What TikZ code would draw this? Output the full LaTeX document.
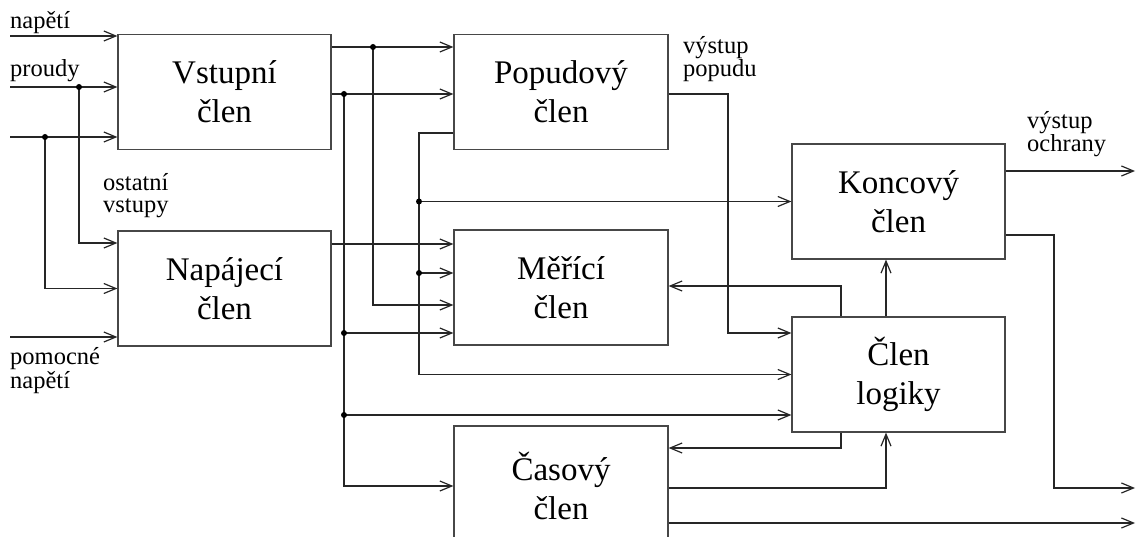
\documentclass[tikz,border=0pt]{standalone}
\usepackage{fontspec}
\setmainfont{Liberation Serif}
\usetikzlibrary{arrows.meta,calc}
\begin{document}
\begin{tikzpicture}[x=1pt,y=-1pt,
  box/.style={draw=black!72, line width=1.2pt, fill=white, minimum width=213pt, minimum height=115pt,
    inner sep=0pt, align=center, font=\fontsize{33}{39}\selectfont},
  wire/.style={draw=black!85, line width=1.2pt},
  arr/.style={wire, -{Straight Barb[length=12pt,width=10pt]}},
  lbl/.style={font=\fontsize{24.5}{22}\selectfont, inner sep=0pt, align=left, anchor=base west},
  dot/.style={circle, fill=black, inner sep=0pt, minimum size=6pt}]
\useasboundingbox (0,0) rectangle (1137,537);
\clip (0,0) rectangle (1137,537);

% blocks
\node[box] (V) at (224.5,92) {Vstupní\\člen};
\node[box] (N) at (224.5,288.5) {Napájecí\\člen};
\node[box, minimum width=214pt] (P) at (561,92) {Popudový\\člen};
\node[box, minimum width=214pt] (M) at (561,287.5) {Měřící\\člen};
\node[box, minimum width=214pt, minimum height=120pt] (C) at (561,486) {Časový\\člen};
\node[box] (K) at (898.5,201.5) {Koncový\\člen};
\node[box] (L) at (898.5,374.5) {Člen\\logiky};

% left inputs
\coordinate (iU) at (10,36);
\coordinate (iI) at (10,87);
\coordinate (iO) at (10,137);
\coordinate (iP) at (10,337);
\coordinate (dI) at (79,87);
\coordinate (dO) at (45,137);
\draw[arr] (iU) -- (iU -| V.west);
\draw[arr] (iI) -- (iI -| V.west);
\draw[arr] (iO) -- (iO -| V.west);
\draw[arr] (dI) |- ([yshift=45.5pt]N.west);
\draw[arr] (dO) |- (N.west);
\draw[arr] (iP) -- (iP -| N.west);

% outputs of Vstupni clen
\coordinate (d1) at (373,47);
\coordinate (d2) at (344,94);
\coordinate (d3) at (344,333);
\coordinate (d4) at (344,415);
\draw[arr] ([yshift=45pt]V.east) -- ([yshift=45pt]P.west);
\draw[arr] ([yshift=-2pt]V.east) -- ([yshift=-2pt]P.west);
\draw[arr] (d1) |- ([yshift=-17.5pt]M.west);
\draw[arr] (d2) |- (C.west);
\draw[arr] (d3) -- (d3 -| M.west);
\draw[arr] (d4) -- (d4 -| L.west);

% output of Napajeci clen
\draw[arr] ([yshift=44.5pt]N.east) -- ([yshift=43.5pt]M.west);

% line from Popudovy clen (left side)
\coordinate (c1) at (419,133);
\coordinate (d5) at (419,201.5);
\coordinate (d6) at (419,273);
\draw[arr] (P.west |- c1) -- (c1) |- (L.west);
\draw[arr] (d5) -- (K.west);
\draw[arr] (d6) -- (d6 -| M.west);

% vystup popudu
\coordinate (c2) at (728,94);
\draw[arr] (P.east |- c2) -- (c2) |- ([yshift=41.5pt]L.west);

% feedback and outputs on the right
\coordinate (c3) at (841,286);
\coordinate (c4) at (841,448);
\coordinate (c5) at (886,488);
\coordinate (c6) at (1054,235);
\coordinate (o1) at (1135,523);
\coordinate (o2) at (1135,171);
\coordinate (o3) at (1135,488);
\draw[arr] (L.north -| c3) -- (c3) -- (c3 -| M.east);
\draw[arr] ([xshift=-12.5pt]L.north) -- ([xshift=-12.5pt]K.south);
\draw[arr] (L.south -| c4) -- (c4) -- (c4 -| C.east);
\draw[arr] (C.east |- c5) -- (c5) -- ([xshift=-12.5pt]L.south);
\draw[arr] (C.east |- o1) -- (o1);
\draw[arr] (K.east |- o2) -- (o2);
\draw[arr] (K.east |- c6) -- (c6) |- (o3);

% junction dots
\foreach \d in {dI,dO,d1,d2,d3,d4,d5,d6} \node[dot] at (\d) {};

% labels (base anchor = baseline of last line)
\node[lbl] (tU) at (10,29) {napětí};
\node[lbl] (tI) at (10,77) {proudy};
\node[lbl] (tO) at (103,213) {ostatní\\vstupy};
\node[lbl] (tP) at (10,388) {pomocné\\napětí};
\node[lbl] (tVP) at (683,77) {výstup\\popudu};
\node[lbl] (tVO) at (1027,152) {výstup\\ochrany};
\end{tikzpicture}
\end{document}
